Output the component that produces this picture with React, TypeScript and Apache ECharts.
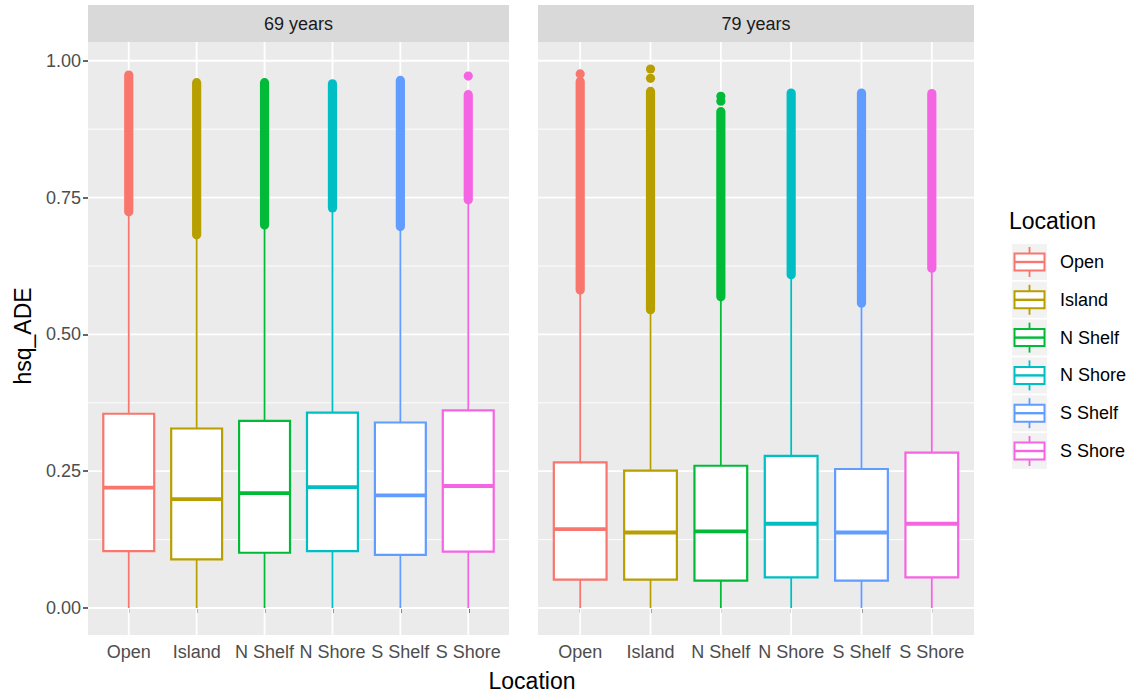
import React, { useEffect, useRef } from 'react';
import * as echarts from 'echarts';

// ---------- data ----------
const categories = ['Open', 'Island', 'N Shelf', 'N Shore', 'S Shelf', 'S Shore'];
const facets = ['69 years', '79 years'];
const yTicks = [0, 0.25, 0.5, 0.75, 1];
const yMinorTicks = [0.125, 0.375, 0.625, 0.875];

// 69 years
const lower69 = [0, 0, 0, 0, 0, 0];
const q1_69 = [0.104, 0.089, 0.101, 0.104, 0.097, 0.103];
const median69 = [0.220, 0.199, 0.210, 0.221, 0.206, 0.223];
const q3_69 = [0.355, 0.328, 0.342, 0.357, 0.339, 0.361];
const upper69 = [0.721, 0.679, 0.697, 0.728, 0.694, 0.743];
const outLow69 = [0.724, 0.682, 0.700, 0.731, 0.697, 0.746];
const outHigh69 = [0.974, 0.960, 0.960, 0.958, 0.964, 0.938];
const isoCat69 = ['S Shore'];
const isoVal69 = [0.972];

// 79 years
const lower79 = [0, 0, 0, 0, 0, 0];
const q1_79 = [0.052, 0.052, 0.050, 0.056, 0.050, 0.056];
const median79 = [0.144, 0.138, 0.140, 0.154, 0.138, 0.154];
const q3_79 = [0.266, 0.251, 0.260, 0.278, 0.254, 0.284];
const upper79 = [0.578, 0.542, 0.566, 0.606, 0.554, 0.618];
const outLow79 = [0.581, 0.545, 0.569, 0.609, 0.557, 0.621];
const outHigh79 = [0.962, 0.944, 0.907, 0.941, 0.941, 0.940];
const isoCat79 = ['Open', 'Island', 'Island', 'N Shelf', 'N Shelf'];
const isoVal79 = [0.976, 0.968, 0.985, 0.926, 0.935];

// ---------- styles / layout ----------
const palette = ['#F8766D', '#B79F00', '#00BA38', '#00BFC4', '#619CFF', '#F564E3'];
const FONT = '"Liberation Sans", Arial, Helvetica, sans-serif';
const TICK_FS = 18;
const TITLE_FS = 23;
const Y_MIN = -0.0493;
const Y_MAX = 1.0343;
const X_MIN = 0.4;
const X_MAX = 6.6;
const PANELS = [
  { left: 88, width: 421 },
  { left: 538, width: 436 },
];
const PANEL_TOP = 42;
const PANEL_H = 593;
const STRIP_TOP = 5;

const stats = [
  { lower: lower69, q1: q1_69, med: median69, q3: q3_69, upper: upper69, oLo: outLow69, oHi: outHigh69, isoC: isoCat69, isoV: isoVal69 },
  { lower: lower79, q1: q1_79, med: median79, q3: q3_79, upper: upper79, oLo: outLow79, oHi: outHigh79, isoC: isoCat79, isoV: isoVal79 },
];
const catPos = categories.map((_, i) => i + 1);

function buildOption() {
  const grid = PANELS.map((p) => ({
    left: p.left,
    top: PANEL_TOP,
    width: p.width,
    height: PANEL_H,
    show: true,
    backgroundColor: '#EBEBEB',
    borderWidth: 0,
    containLabel: false,
  }));

  const xAxis = PANELS.map((_, i) => ({
    gridIndex: i,
    type: 'value',
    min: X_MIN,
    max: X_MAX,
    axisLine: { show: false },
    splitLine: { show: false },
    axisTick: { show: true, customValues: catPos, length: 5, lineStyle: { color: '#333333', width: 1.5 } },
    axisLabel: {
      show: true,
      customValues: catPos,
      formatter: (v: number) => categories[Math.round(v) - 1] ?? '',
      color: '#4D4D4D',
      fontSize: TICK_FS,
      fontFamily: FONT,
      margin: 8,
      hideOverlap: false,
    },
  }));

  const yAxis = PANELS.map((_, i) => ({
    gridIndex: i,
    type: 'value',
    min: Y_MIN,
    max: Y_MAX,
    axisLine: { show: false },
    splitLine: { show: false },
    axisTick: { show: i === 0, customValues: yTicks, length: 5, lineStyle: { color: '#333333', width: 1.5 } },
    axisLabel: {
      show: i === 0,
      customValues: yTicks,
      formatter: (v: number) => Number(v).toFixed(2),
      color: '#4D4D4D',
      fontSize: TICK_FS,
      fontFamily: FONT,
      margin: 7,
    },
  }));

  const series: any[] = [];
  PANELS.forEach((_, pi) => {
    // panel grid lines
    series.push({
      type: 'custom',
      xAxisIndex: pi,
      yAxisIndex: pi,
      silent: true,
      z: 1,
      data: [[1, 0]],
      renderItem: (params: any, api: any) => {
        const children: any[] = [];
        yMinorTicks.forEach((v) => {
          const a = api.coord([X_MIN, v]);
          const b = api.coord([X_MAX, v]);
          children.push({ type: 'line', shape: { x1: a[0], y1: a[1], x2: b[0], y2: b[1] }, style: { stroke: '#FFFFFF', lineWidth: 0.9 } });
        });
        yTicks.forEach((v) => {
          const a = api.coord([X_MIN, v]);
          const b = api.coord([X_MAX, v]);
          children.push({ type: 'line', shape: { x1: a[0], y1: a[1], x2: b[0], y2: b[1] }, style: { stroke: '#FFFFFF', lineWidth: 1.8 } });
        });
        catPos.forEach((c) => {
          const a = api.coord([c, Y_MIN]);
          const b = api.coord([c, Y_MAX]);
          children.push({ type: 'line', shape: { x1: a[0], y1: a[1], x2: b[0], y2: b[1] }, style: { stroke: '#FFFFFF', lineWidth: 1.8 } });
        });
        return { type: 'group', children };
      },
    });

    const s = stats[pi];
    // boxes
    series.push({
      type: 'custom',
      xAxisIndex: pi,
      yAxisIndex: pi,
      silent: true,
      z: 2,
      encode: { x: 0, y: [1, 2, 3, 4, 5] },
      data: categories.map((_, ci) => [ci + 1, s.lower[ci], s.q1[ci], s.med[ci], s.q3[ci], s.upper[ci], ci]),
      renderItem: (params: any, api: any) => {
        const x = api.value(0);
        const color = palette[api.value(6)];
        const pLo = api.coord([x, api.value(1)]);
        const pQ1 = api.coord([x, api.value(2)]);
        const pMed = api.coord([x, api.value(3)]);
        const pQ3 = api.coord([x, api.value(4)]);
        const pHi = api.coord([x, api.value(5)]);
        const w = api.size([0.75, 0])[0];
        const cx = pMed[0];
        return {
          type: 'group',
          children: [
            { type: 'line', shape: { x1: cx, y1: pQ3[1], x2: cx, y2: pHi[1] }, style: { stroke: color, lineWidth: 1.8 } },
            { type: 'line', shape: { x1: cx, y1: pLo[1], x2: cx, y2: pQ1[1] }, style: { stroke: color, lineWidth: 1.8 } },
            { type: 'rect', shape: { x: cx - w / 2, y: pQ3[1], width: w, height: pQ1[1] - pQ3[1] }, style: { fill: '#FFFFFF', stroke: color, lineWidth: 2.2 } },
            { type: 'line', shape: { x1: cx - w / 2, y1: pMed[1], x2: cx + w / 2, y2: pMed[1] }, style: { stroke: color, lineWidth: 3.8 } },
          ],
        };
      },
    });

    // outliers: dense runs and isolated points
    const outData: any[] = categories.map((_, ci) => [ci + 1, s.oLo[ci], s.oHi[ci], ci]);
    s.isoC.forEach((c, k) => {
      const ci = categories.indexOf(c);
      outData.push([ci + 1, s.isoV[k], s.isoV[k], ci]);
    });
    series.push({
      type: 'custom',
      xAxisIndex: pi,
      yAxisIndex: pi,
      silent: true,
      z: 3,
      encode: { x: 0, y: [1, 2] },
      data: outData,
      renderItem: (params: any, api: any) => {
        const x = api.value(0);
        const color = palette[api.value(3)];
        const pLo = api.coord([x, api.value(1)]);
        const pHi = api.coord([x, api.value(2)]);
        const r = 4.6;
        return {
          type: 'rect',
          shape: { x: pLo[0] - r, y: pHi[1] - r, width: 2 * r, height: pLo[1] - pHi[1] + 2 * r, r },
          style: { fill: color },
        };
      },
    });
  });

  const graphic: any[] = [];
  PANELS.forEach((p, i) => {
    graphic.push({ type: 'rect', shape: { x: p.left, y: STRIP_TOP, width: p.width, height: PANEL_TOP - STRIP_TOP }, style: { fill: '#D9D9D9' }, silent: true });
    graphic.push({
      type: 'text',
      x: p.left + p.width / 2,
      y: (STRIP_TOP + PANEL_TOP) / 2 + 0.5,
      style: { text: facets[i], fill: '#1A1A1A', fontSize: TICK_FS, fontFamily: FONT, align: 'center', verticalAlign: 'middle' },
      silent: true,
    });
  });
  // axis titles
  graphic.push({
    type: 'text',
    x: 532,
    y: 681,
    style: { text: 'Location', fill: '#000000', fontSize: TITLE_FS, fontFamily: FONT, align: 'center', verticalAlign: 'middle' },
  });
  graphic.push({
    type: 'text',
    x: 23,
    y: 336,
    rotation: Math.PI / 2,
    style: { text: 'hsq_ADE', fill: '#000000', fontSize: TITLE_FS, fontFamily: FONT, align: 'center', verticalAlign: 'middle' },
  });
  // legend
  graphic.push({
    type: 'text',
    x: 1009,
    y: 221,
    style: { text: 'Location', fill: '#000000', fontSize: TITLE_FS, fontFamily: FONT, align: 'left', verticalAlign: 'middle' },
  });
  categories.forEach((c, i) => {
    const cy = 262 + i * 37.8;
    const kx = 1012;
    const kw = 35;
    const color = palette[i];
    graphic.push({ type: 'rect', shape: { x: kx, y: cy - 18, width: kw, height: 36 }, style: { fill: '#F2F2F2' } });
    graphic.push({ type: 'line', shape: { x1: kx + kw / 2, y1: cy - 15, x2: kx + kw / 2, y2: cy + 15 }, style: { stroke: color, lineWidth: 1.8 } });
    graphic.push({ type: 'rect', shape: { x: kx + 2.5, y: cy - 8.5, width: kw - 5, height: 17 }, style: { fill: '#FFFFFF', stroke: color, lineWidth: 2 } });
    graphic.push({ type: 'line', shape: { x1: kx + 2.5, y1: cy, x2: kx + kw - 2.5, y2: cy }, style: { stroke: color, lineWidth: 2.4 } });
    graphic.push({
      type: 'text',
      x: 1060,
      y: cy,
      style: { text: c, fill: '#000000', fontSize: TICK_FS, fontFamily: FONT, align: 'left', verticalAlign: 'middle' },
    });
  });

  return {
    animation: false,
    backgroundColor: '#FFFFFF',
    grid,
    xAxis,
    yAxis,
    series,
    graphic,
  };
}

export default function App() {
  const ref = useRef<HTMLDivElement>(null);
  useEffect(() => {
    if (!ref.current) return;
    const chart = echarts.init(ref.current, undefined, { renderer: 'svg' });
    chart.setOption(buildOption() as any);
    return () => chart.dispose();
  }, []);
  return (
    <div
      ref={ref}
      style={{ position: 'fixed', left: 0, top: 0, width: 1134, height: 696, background: '#FFFFFF' }}
    />
  );
}
